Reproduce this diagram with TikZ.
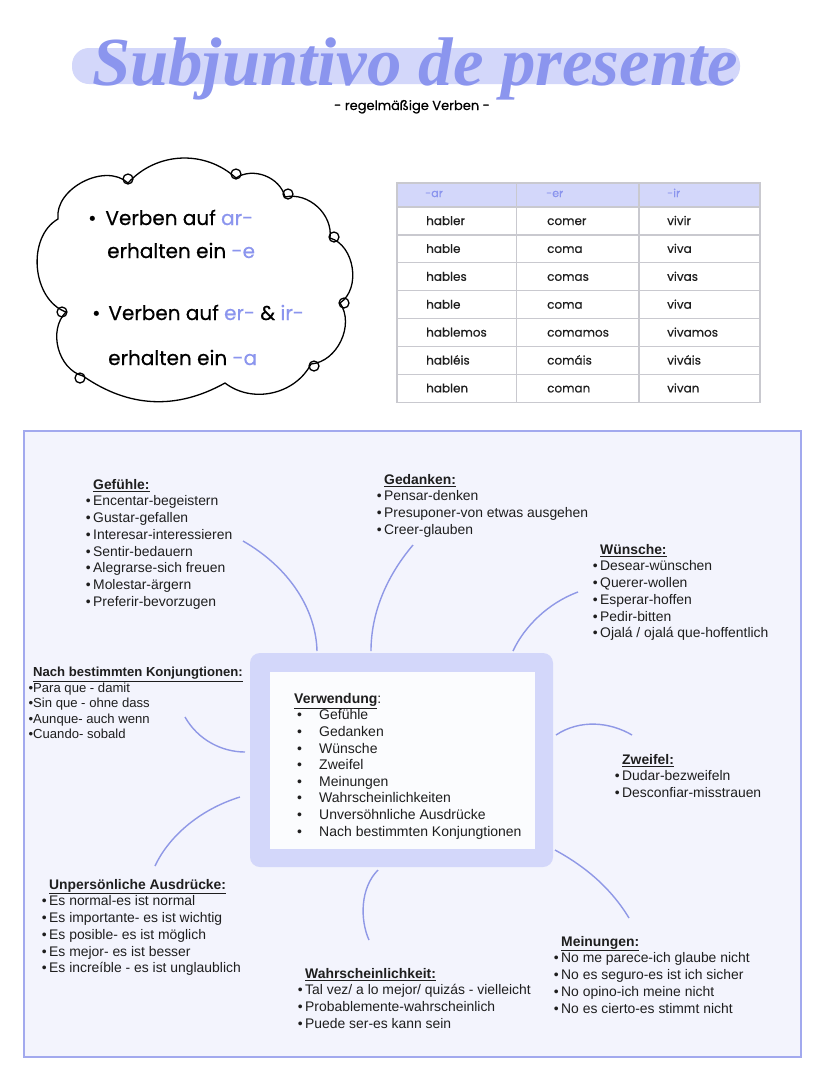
\documentclass[tikz,border=0pt]{standalone}
\usepackage{fontspec}
\setmainfont{Liberation Sans}
\newfontfamily\handfont{Poppins}[FakeBold=0.5]
\newfontfamily\titlefont{Liberation Serif}
\definecolor{lav}{HTML}{D3D7FA}
\definecolor{violet}{HTML}{8B95EE}
\definecolor{conncol}{HTML}{8F98E6}
\definecolor{panel}{HTML}{F3F4FD}
\definecolor{frame}{HTML}{A2A9EE}
\definecolor{gridcol}{HTML}{C9C9CF}
\definecolor{txt}{HTML}{1E1E1E}
\newcommand{\mybul}{\llap{\textbullet\hspace{2.5pt}}}
\newcommand{\mytight}{\llap{\textbullet}}
\newcommand{\myhd}[1]{\underline{\textbf{#1}}}
\newcommand{\vbul}{\hspace*{3pt}\makebox[22pt][l]{\textbullet}}
\newcommand{\vio}[1]{\textcolor{violet}{#1}}
\begin{document}
\begin{tikzpicture}[x=1pt,y=-1pt,
  grp/.style={anchor=north west, inner sep=0pt, align=left, text=txt,
    font=\fontsize{13.9}{16.7}\selectfont},
  conn/.style={draw=conncol, line width=1.4pt},
  tcell/.style={anchor=base west, inner sep=0pt, text=txt, font=\handfont\fontsize{12}{12}\selectfont},
  thead/.style={anchor=base west, inner sep=0pt, text=violet, font=\handfont\fontsize{11}{11}\selectfont},
  cline/.style={anchor=base west, inner sep=0pt, text=black, font=\handfont\fontsize{20}{20}\selectfont},
  cloudline/.style={draw=black, line width=1.3pt},
]
\useasboundingbox (0,0) rectangle (828,1069);
\fill[white] (0,0) rectangle (828,1069);

% ---------- title ----------
\fill[lav, rounded corners=17pt] (72,48) rectangle (740,84);
\node[anchor=base, inner sep=0pt, text=violet] (title) at (415,85)
  {\resizebox{646pt}{!}{\titlefont\bfseries\itshape\fontsize{64}{64}\selectfont Subjuntivo de presente}};
\node[anchor=base, inner sep=0pt, text=black] (sub) at (412,110)
  {\handfont\fontsize{13}{13}\selectfont - regelmäßige Verben -};

% ---------- cloud ----------
\coordinate (P0) at (58,219);
\coordinate (PA) at (128,183);
\coordinate (PB) at (236,178);
\coordinate (PC) at (285,197);
\coordinate (PD) at (330,238);
\coordinate (PE) at (340,303);
\coordinate (PF) at (311,364);
\coordinate (PG) at (225,383);
\coordinate (PH) at (83,376);
\coordinate (PI) at (66,312);
\draw[cloudline, line join=round]
  (P0) to[bend left=70] (PA) to[bend left=45] (PB) to[bend left=55] (PC)
  to[bend left=55] (PD) to[bend left=65] (PE) to[bend left=60] (PF)
  to[bend left=50] (PG) to[bend left=32] (PH) to[bend left=60] (PI)
  to[bend left=65] cycle;
\foreach \lx/\ly in {128/179, 236/174, 288/194, 334/237, 344/303, 314/366, 80/378, 62/312}
  \draw[cloudline] (\lx,\ly) circle[radius=5];
\node[cline] (c1) at (88,225) {\textbullet\hspace{9pt}Verben auf \vio{ar-}};
\node[cline] (c2) at (107,258) {erhalten ein \vio{-e}};
\node[cline] (c3) at (92,320) {\textbullet\hspace{8pt}Verben auf \vio{er-} \& \vio{ir-}};
\node[cline] (c4) at (108,365) {erhalten ein \vio{-a}};

% ---------- table ----------
\fill[lav] (397,183) rectangle (760,207);
\foreach \yy in {207,234.9,262.8,290.7,318.6,346.5,374.4}
  \draw[gridcol, line width=1.2pt] (397,\yy) -- (760,\yy);
\draw[gridcol, line width=1.2pt] (516.5,183) -- (516.5,402.3);
\draw[gridcol, line width=1.2pt] (639,183) -- (639,402.3);
\draw[gridcol, line width=1.2pt] (397,183) rectangle (760,402.3);
\node[thead] (h1) at (425,197) {-ar};
\node[thead] (h2) at (546,197) {-er};
\node[thead] (h3) at (667,197) {-ir};
\foreach \a/\b/\c [count=\i from 0] in {habler/comer/vivir, hable/coma/viva, hables/comas/vivas,
   hable/coma/viva, hablemos/comamos/vivamos, habléis/comáis/viváis, hablen/coman/vivan}{
  \node[tcell] (ta\i) at (426,{225+27.9*\i}) {\a};
  \node[tcell] (tb\i) at (547,{225+27.9*\i}) {\b};
  \node[tcell] (tc\i) at (667,{225+27.9*\i}) {\c};
}

% ---------- panel ----------
\draw[frame, fill=panel, line width=1.5pt] (24,431) rectangle (801,1057);
\fill[lav, rounded corners=10pt] (250,653) rectangle (553,867);
\fill[white!70!panel] (270,672) rectangle (535,849);
\node[grp, font=\fontsize{14}{16.6}\selectfont] (verw) at (294,693) {\myhd{Verwendung}:\\
  \vbul Gefühle\\ \vbul Gedanken\\ \vbul Wünsche\\ \vbul Zweifel\\ \vbul Meinungen\\
  \vbul Wahrscheinlichkeiten\\ \vbul Unversöhnliche Ausdrücke\\ \vbul Nach bestimmten Konjungtionen};

\node[grp] (gef) at (93,479) {\myhd{Gefühle:}\\
  \mybul Encentar-begeistern\\ \mybul Gustar-gefallen\\ \mybul Interesar-interessieren\\
  \mybul Sentir-bedauern\\ \mybul Alegrarse-sich freuen\\ \mybul Molestar-ärgern\\
  \mybul Preferir-bevorzugen};
\node[grp] (ged) at (384,474) {\myhd{Gedanken:}\\
  \mybul Pensar-denken\\ \mybul Presuponer-von etwas ausgehen\\ \mybul Creer-glauben};
\node[grp] (wun) at (600,544) {\myhd{Wünsche:}\\
  \mybul Desear-wünschen\\ \mybul Querer-wollen\\ \mybul Esperar-hoffen\\
  \mybul Pedir-bitten\\ \mybul Ojalá / ojalá que-hoffentlich};
\node[grp, font=\fontsize{13.1}{15.5}\selectfont] (nach) at (33,667) {\myhd{Nach bestimmten Konjungtionen:}\\
  \mytight Para que - damit\\ \mytight Sin que - ohne dass\\ \mytight Aunque- auch wenn\\
  \mytight Cuando- sobald};
\node[grp] (zwe) at (622,754) {\myhd{Zweifel:}\\
  \mybul Dudar-bezweifeln\\ \mybul Desconfiar-misstrauen};
\node[grp] (unp) at (49,879) {\myhd{Unpersönliche Ausdrücke:}\\
  \mybul Es normal-es ist normal\\ \mybul Es importante- es ist wichtig\\
  \mybul Es posible- es ist möglich\\ \mybul Es mejor- es ist besser\\
  \mybul Es increíble - es ist unglaublich};
\node[grp] (wah) at (305,968) {\myhd{Wahrscheinlichkeit:}\\
  \mybul Tal vez/ a lo mejor/ quizás - vielleicht\\ \mybul Probablemente-wahrscheinlich\\
  \mybul Puede ser-es kann sein};
\node[grp] (mei) at (561,936) {\myhd{Meinungen:}\\
  \mybul No me parece-ich glaube nicht\\ \mybul No es seguro-es ist ich sicher\\
  \mybul No opino-ich meine nicht\\ \mybul No es cierto-es stimmt nicht};

% ---------- connectors ----------
\coordinate (gefA) at (243,541);  \coordinate (gefB) at (317,651);
\coordinate (gedA) at (413,545);  \coordinate (gedB) at (371,651);
\coordinate (wunA) at (578,592);  \coordinate (wunB) at (513,651);
\coordinate (nachA) at (185,717); \coordinate (nachB) at (245,752);
\coordinate (unpA) at (240,797);  \coordinate (unpB) at (155,866);
\coordinate (zweA) at (556,735);  \coordinate (zweB) at (632,735);
\coordinate (wahA) at (378,870);  \coordinate (wahB) at (369,940);
\coordinate (meiA) at (555,850);  \coordinate (meiB) at (629,918);
\draw[conn] (gefA) .. controls (290,568) and (316,610) .. (gefB);
\draw[conn] (gedA) .. controls (385,578) and (371,615) .. (gedB);
\draw[conn] (wunA) .. controls (548,603) and (524,627) .. (wunB);
\draw[conn] (nachA) .. controls (198,740) and (222,752) .. (nachB);
\draw[conn] (unpA) .. controls (198,810) and (168,838) .. (unpB);
\draw[conn] (zweA) .. controls (580,719) and (610,722) .. (zweB);
\draw[conn] (wahA) .. controls (360,888) and (360,920) .. (wahB);
\draw[conn] (meiA) .. controls (588,868) and (612,890) .. (meiB);
\end{tikzpicture}
\end{document}
